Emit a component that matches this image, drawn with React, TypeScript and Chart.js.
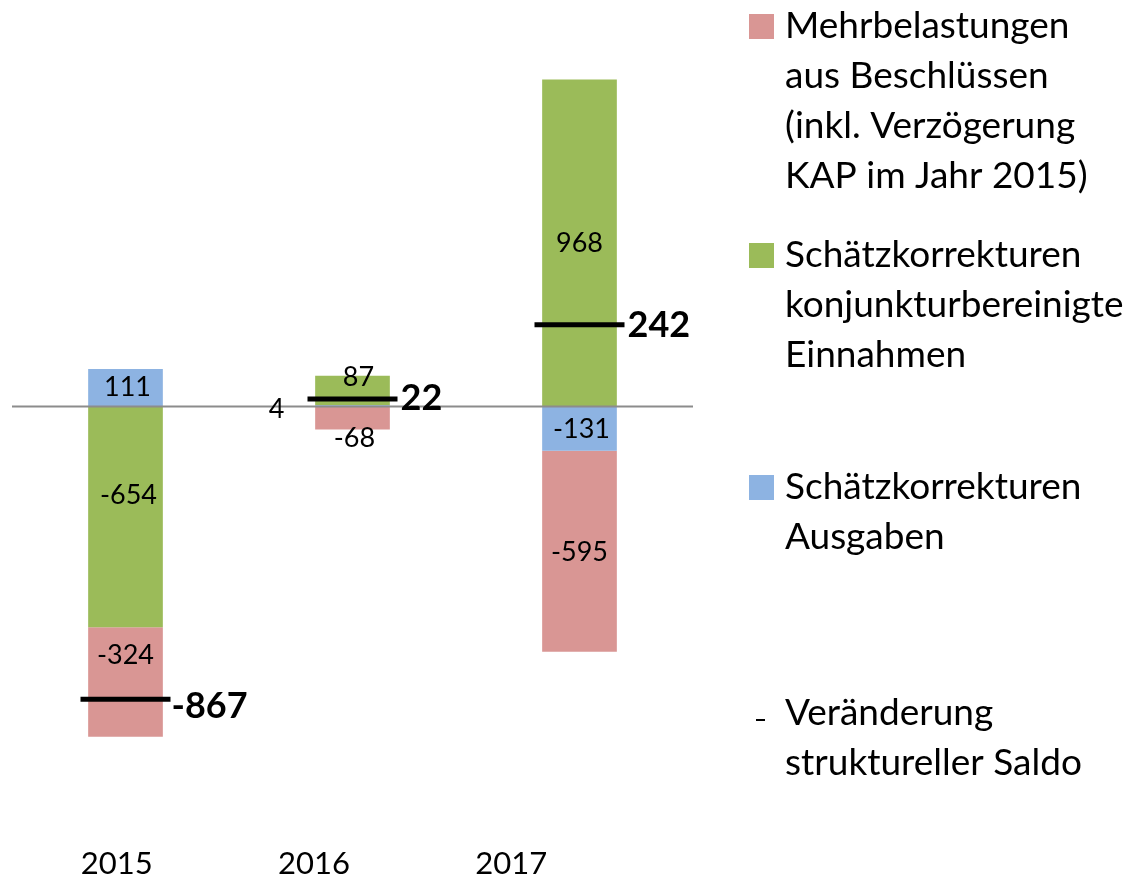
import React, { useEffect, useRef } from 'react';
import { Chart, registerables } from 'chart.js';

Chart.register(...registerables);

// ---- data ----
const years = ['2015', '2016', '2017'];
const ausgaben = [111, 4, -131];
const einnahmen = [-654, 87, 968];
const mehrbelastungen = [-324, -68, -595];
const saldo = [-867, 22, 242];

const legendMehr = ['Mehrbelastungen', 'aus Beschlüssen', '(inkl. Verzögerung', 'KAP im Jahr 2015)'];
const legendEin = ['Schätzkorrekturen', 'konjunkturbereinigte', 'Einnahmen'];
const legendAus = ['Schätzkorrekturen', 'Ausgaben'];
const legendSaldo = ['Veränderung', 'struktureller Saldo'];

// ---- style ----
const PINK = '#D99694';
const GREEN = '#9BBB59';
const BLUE = '#8DB3E2';
const FONT = 'Lato, Carlito, "Open Sans", sans-serif';

// label nudges (pixels) to mimic the manually placed labels
const ausDx = [2, -76, 2];
const ausDy = [0, 3, 1];
const einDx = [3, 6, 0];
const einDy = [-22, -13, 0];
const mehrDx = [0, 2, 0];
const mehrDy = [-27, 20, 1];
const saldoDx = [46, 48, 48];
const saldoDy = [7, -1, 1];

const LEGEND_BOX_X = 749;
const LEGEND_TEXT_X = 785;
const LEGEND_BASELINES = [38, 267, 499, 725];
const LEGEND_LINE_GAP = 50;
const LEGEND_BOX = 25;
const X_AXIS_HEIGHT = 48;

const annotatePlugin = {
  id: 'annotate',
  afterDatasetsDraw(chart: any) {
    const ctx = chart.ctx;
    const area = chart.chartArea;
    const yScale = chart.scales.y;
    const y0 = yScale.getPixelForValue(0);
    ctx.save();
    ctx.strokeStyle = '#8c8c8c';
    ctx.lineWidth = 2;
    ctx.beginPath();
    ctx.moveTo(area.left, y0);
    ctx.lineTo(area.right, y0);
    ctx.stroke();

    ctx.fillStyle = '#000';
    ctx.textAlign = 'center';
    ctx.textBaseline = 'middle';
    ctx.font = `27px ${FONT}`;
    chart.data.datasets.forEach((ds: any, di: number) => {
      const meta = chart.getDatasetMeta(di);
      if (ds.type === 'bar') {
        meta.data.forEach((el: any, i: number) => {
          const p = el.getProps(['x', 'y', 'base'], true);
          const cx = p.x + (ds.labelDx ? ds.labelDx[i] : 0);
          const cy = (p.y + p.base) / 2 + (ds.labelDy ? ds.labelDy[i] : 0);
          ctx.fillText(String(ds.data[i]), cx, cy);
        });
      }
    });
    chart.data.datasets.forEach((ds: any, di: number) => {
      const meta = chart.getDatasetMeta(di);
      if (ds.type === 'line') {
        ctx.font = `bold 36px ${FONT}`;
        ctx.textAlign = 'left';
        meta.data.forEach((el: any, i: number) => {
          const p = el.getProps(['x', 'y'], true);
          ctx.fillText(String(ds.data[i]), p.x + saldoDx[i], p.y + saldoDy[i]);
        });
      }
    });
    ctx.restore();
  },
  afterDraw(chart: any) {
    const ctx = chart.ctx;
    const order = chart.data.datasets
      .map((ds: any, i: number) => ({ ds, i }))
      .sort((a: any, b: any) => a.ds.legendRank - b.ds.legendRank);
    ctx.save();
    ctx.textAlign = 'left';
    ctx.textBaseline = 'alphabetic';
    ctx.font = `37px ${FONT}`;
    order.forEach((item: any, k: number) => {
      const ds = item.ds;
      const base = LEGEND_BASELINES[k];
      if (ds.type === 'bar') {
        ctx.fillStyle = ds.backgroundColor;
        ctx.fillRect(LEGEND_BOX_X, base - 24, LEGEND_BOX, LEGEND_BOX);
      } else {
        ctx.strokeStyle = '#000';
        ctx.lineWidth = 2;
        ctx.beginPath();
        ctx.moveTo(756, base - 5);
        ctx.lineTo(765, base - 5);
        ctx.stroke();
      }
      ctx.fillStyle = '#000';
      ds.legendLines.forEach((line: string, j: number) => {
        ctx.fillText(line, LEGEND_TEXT_X, base + j * LEGEND_LINE_GAP);
      });
    });
    ctx.restore();
  },
};

export default function App() {
  const canvasRef = useRef<HTMLCanvasElement | null>(null);

  useEffect(() => {
    if (!canvasRef.current) return;
    const chart = new Chart(canvasRef.current, {
      type: 'bar',
      data: {
        labels: years,
        datasets: [
          {
            type: 'bar',
            label: legendAus.join(' '),
            data: ausgaben,
            backgroundColor: BLUE,
            order: 1,
            legendRank: 2,
            legendLines: legendAus,
            labelDx: ausDx,
            labelDy: ausDy,
          } as any,
          {
            type: 'bar',
            label: legendEin.join(' '),
            data: einnahmen,
            backgroundColor: GREEN,
            order: 1,
            legendRank: 1,
            legendLines: legendEin,
            labelDx: einDx,
            labelDy: einDy,
          } as any,
          {
            type: 'bar',
            label: legendMehr.join(' '),
            data: mehrbelastungen,
            backgroundColor: PINK,
            order: 1,
            legendRank: 0,
            legendLines: legendMehr,
            labelDx: mehrDx,
            labelDy: mehrDy,
          } as any,
          {
            type: 'line',
            label: legendSaldo.join(' '),
            data: saldo,
            stack: 'saldo',
            showLine: false,
            pointStyle: 'line',
            pointRadius: 45,
            pointHoverRadius: 45,
            pointBorderWidth: 5,
            pointHoverBorderWidth: 5,
            pointBorderColor: '#000',
            pointBackgroundColor: '#000',
            borderColor: '#000',
            order: 0,
            legendRank: 3,
            legendLines: legendSaldo,
          } as any,
        ],
      },
      options: {
        animation: false,
        responsive: true,
        maintainAspectRatio: false,
        events: [],
        layout: { autoPadding: false, padding: { left: 12, right: 440, top: 10, bottom: 0 } },
        datasets: {
          bar: { barPercentage: 0.329, categoryPercentage: 1, borderWidth: 0 },
        },
        plugins: {
          legend: { display: false },
          tooltip: { enabled: false },
        },
        scales: {
          x: { type: 'category', display: false, stacked: true, offset: true },
          x2: {
            type: 'linear',
            position: 'bottom',
            offset: false,
            min: -0.531,
            max: 2.922,
            grid: { display: false, drawTicks: false, offset: false },
            border: { display: false },
            afterBuildTicks: (axis: any) => {
              axis.ticks = years.map((_, i) => ({ value: i }));
            },
            afterFit: (axis: any) => {
              axis.height = X_AXIS_HEIGHT;
            },
            ticks: {
              padding: 17,
              autoSkip: false,
              maxRotation: 0,
              color: '#000',
              font: { family: FONT, size: 31, lineHeight: 1 },
              callback: (_v: any, i: number) => years[i] ?? '',
            },
          },
          y: { display: false, stacked: true, min: -1257, max: 1174 },
        },
      } as any,
      plugins: [annotatePlugin],
    });
    return () => chart.destroy();
  }, []);

  return (
    <div style={{ position: 'fixed', left: 0, top: 0, width: 1133, height: 879, background: '#fff' }}>
      <canvas ref={canvasRef} />
    </div>
  );
}
